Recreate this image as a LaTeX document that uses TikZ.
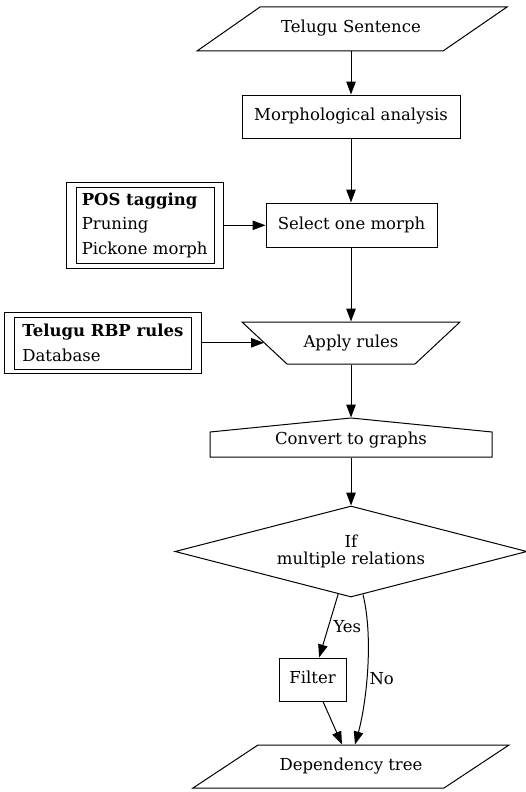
\documentclass[tikz,border=0pt]{standalone}
\usepackage{fontspec}
\setmainfont{DejaVu Serif}
\usetikzlibrary{arrows.meta,shapes.geometric}
\begin{document}
\begin{tikzpicture}[x=1pt,y=-1pt,
  every node/.style={font=\fontsize{16.5}{20}\selectfont, inner sep=0pt},
  line width=1pt,
  >={Triangle[length=13pt,width=9.5pt]},
  lbl/.style={text height=12pt, text depth=4pt},
  boxnode/.style={draw, rectangle, lbl},
  ghost/.style={rectangle, lbl},
  framed/.style={draw, rectangle, align=left, font=\fontsize{16.5}{24.4}\selectfont},
  dec/.style={draw, diamond, aspect=3.87, align=center, font=\fontsize{16.5}{17.6}\selectfont}]
\useasboundingbox (0,0) rectangle (526,792);

% Telugu Sentence (parallelogram)
\draw (197,51) -- (260,7) -- (507,7) -- (443,51) -- cycle;
\node[ghost, minimum width=246pt, minimum height=44pt] (sent) at (351,29) {Telugu Sentence};

\node[boxnode, minimum width=218pt, minimum height=43pt] (morph) at (351,116.5) {Morphological analysis};
\node[boxnode, minimum width=171pt, minimum height=44pt] (sel) at (351.5,225) {Select one morph};

% POS tagging
\node[framed, minimum width=157pt, minimum height=86pt] (pos) at (144.7,225.3)
  {\textbf{POS tagging}\\Pruning\\Pickone morph};
\draw (76,187.3) rectangle (214,263.3);

% Apply rules (inverted trapezium)
\draw (242,322) -- (460,322) -- (415,364) -- (287,364) -- cycle;
\node[ghost, minimum width=173pt, minimum height=42pt] (apply) at (351,343) {Apply rules};

% Telugu RBP rules
\node[framed, minimum width=196.3pt, minimum height=61pt] (rbp) at (102.9,342.8)
  {\textbf{Telugu RBP rules}\\Database};
\draw (14.7,317) rectangle (191,369);

% Convert to graphs (house)
\draw (210,432) -- (351,418) -- (492,432) -- (492,457) -- (210,457) -- cycle;
\node[ghost, minimum width=282pt, minimum height=39pt, text height=17pt] (conv) at (351,437.5) {Convert to graphs};

% Decision
\node[dec, minimum width=352pt, minimum height=91pt] (dia) at (351,551.5) {If\\multiple relations};

\node[boxnode, minimum width=67pt, minimum height=43pt] (filter) at (312.5,679.5) {Filter};

% Dependency tree (parallelogram)
\draw (193,788) -- (258,745) -- (509,745) -- (444,788) -- cycle;
\node[ghost, minimum width=251pt, minimum height=43pt] (dep) at (351,766.5) {Dependency tree};

% connectors
\draw[->] (sent) -- (morph);
\draw[->] (morph.south) -- (morph.south |- sel.north);
\draw[->] (pos) -- (pos -| sel.west);
\draw[->] (sel.south -| morph.south) -- (apply.north);
\draw[->] (rbp.east) -- (rbp.east -| apply.west);
\draw[->] (apply.south) -- (conv.north);
\draw[->] (conv.south) -- (dia.north);
\draw[->] (dia) -- (filter);
\node[anchor=base west] (yes) at (333,632) {Yes};
\coordinate (nostart) at ([shift={(12,-3)}]dia.south);
\draw[->] (nostart) .. controls (374,640) and (366,705) .. ([xshift=4pt]dep.north);
\node[anchor=base west] (no) at (369,684) {No};
\draw[->] ([xshift=10.5pt]filter.south) -- ([xshift=-9pt]dep.north);
\end{tikzpicture}
\end{document}
